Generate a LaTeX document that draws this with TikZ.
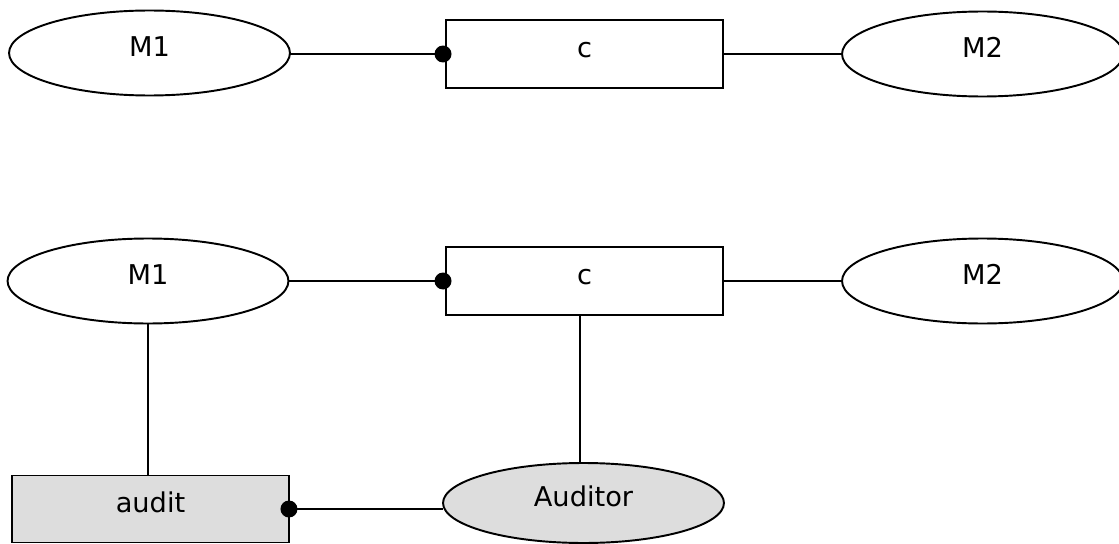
\documentclass[tikz,border=0pt]{standalone}
\usepackage{fontspec}
\setmainfont{DejaVu Sans}
\usetikzlibrary{shapes.geometric}
\definecolor{boxgray}{HTML}{DDDDDD}

\begin{document}
\begin{tikzpicture}[x=0.02cm,y=-0.02cm,line width=1.1pt,
  module/.style={draw=black,ellipse,inner sep=0pt,outer sep=0pt,minimum width=5.62cm,minimum height=1.70cm,text height=11.5pt,text depth=8pt,font=\fontsize{15.5}{18}\selectfont},
  chan/.style={draw=black,rectangle,inner sep=0pt,outer sep=0pt,minimum width=5.54cm,minimum height=1.36cm,text height=11.5pt,text depth=8pt,font=\fontsize{15.5}{18}\selectfont},
  dot/.style={fill=black}]
\useasboundingbox (0,0) rectangle (1119,544);
% plain channel
\node[module] (m1a) at (149.5,53) {M1};
\node[chan] (ca) at (584.5,54) {c};
\node[module] (m2a) at (982.5,54) {M2};
\draw (m1a.east |- ca.west) -- (ca.west);
\draw (ca.east) -- (m2a.west);
\fill[dot] (ca.west) ++(-3,0) circle[radius=0.17cm];
% channel with auditor
\node[module] (m1b) at (148,281) {M1};
\node[chan] (cb) at (584.5,281) {c};
\node[module] (m2b) at (982.5,281) {M2};
\node[chan,fill=boxgray,minimum height=1.34cm] (audit) at (150.5,509) {audit};
\node[module,fill=boxgray,minimum height=1.60cm] (aud) at (583.5,503) {Auditor};
\draw (m1b.east) -- (cb.west);
\draw (cb.east) -- (m2b.west);
\draw (m1b.south) -- (m1b.south |- audit.north);
\draw (cb.south) ++(-4.5,0) -- ++(0,147);
\draw (audit.east) -- (audit.east -| aud.west);
\fill[dot] (cb.west) ++(-3,0) circle[radius=0.17cm];
\fill[dot] (audit.east) circle[radius=0.17cm];
\end{tikzpicture}
\end{document}
